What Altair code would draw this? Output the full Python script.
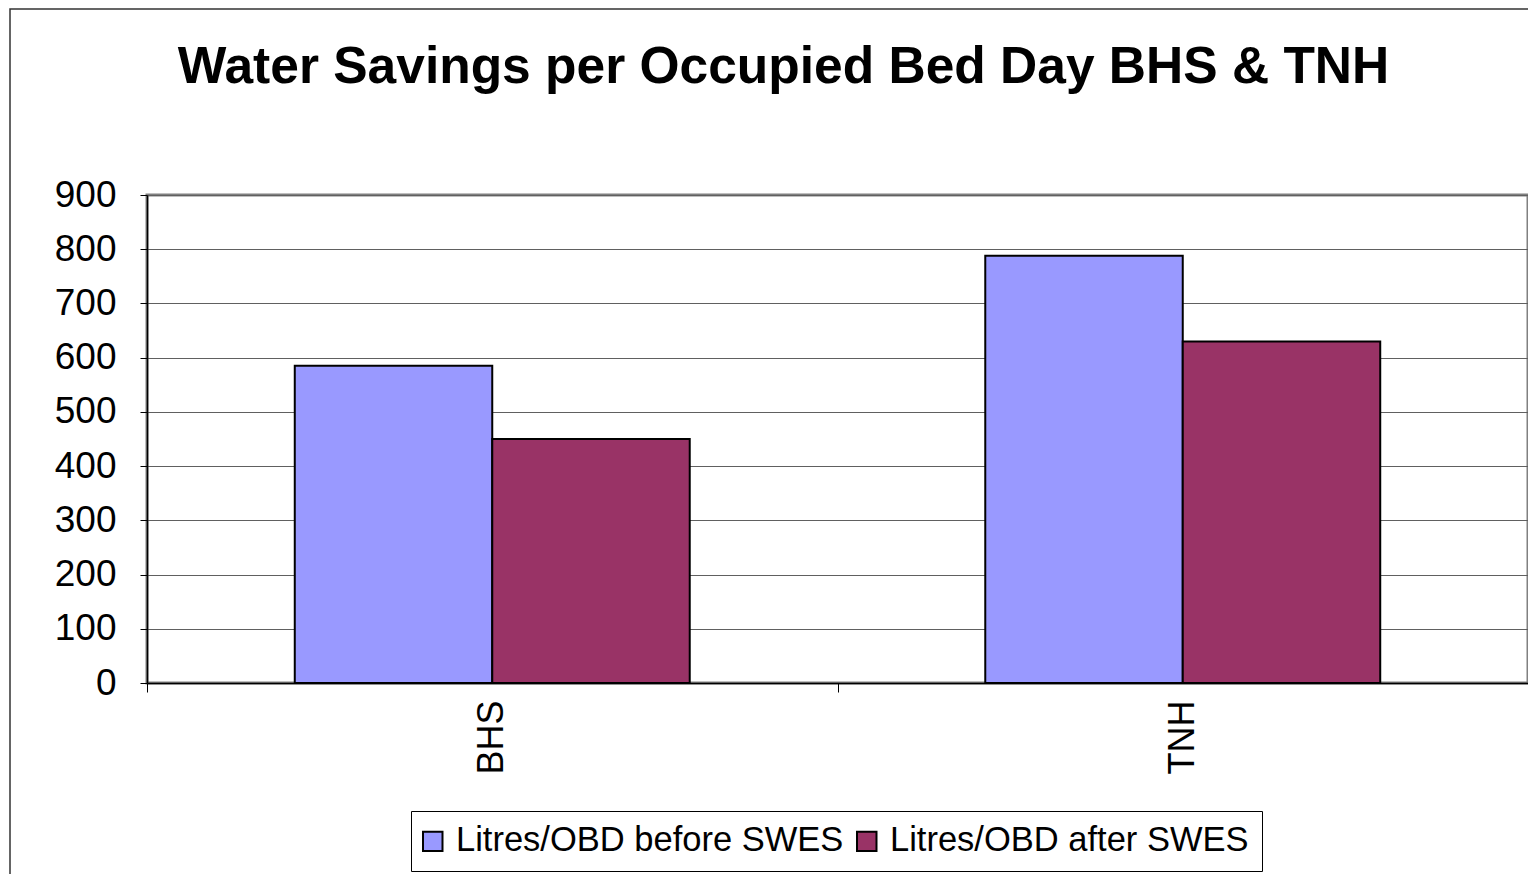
import altair as alt
import pandas as pd

categories = ["BHS", "TNH"]
series_names = ["Litres/OBD before SWES", "Litres/OBD after SWES"]
before_values = [585, 788]
after_values = [450, 630]
series_colors = ["#9999FF", "#993366"]
y_ticks = [0, 100, 200, 300, 400, 500, 600, 700, 800, 900]
boundaries = [0, 1, 2]

rows = []
for c, b, a in zip(categories, before_values, after_values):
    rows.append({"site": c, "series": series_names[0], "value": b})
    rows.append({"site": c, "series": series_names[1], "value": a})
df = pd.DataFrame(rows)

FONT = "Liberation Sans"
W, H = 1381, 488

border = alt.Chart(pd.DataFrame({"k": [0]})).mark_rect(
    fillOpacity=0, stroke="#333333", strokeWidth=1.5
).encode(
    x=alt.value(-137), x2=alt.value(W + 40),
    y=alt.value(-186), y2=alt.value(H + 260)
)

bars = alt.Chart(df).mark_bar(stroke="black", strokeWidth=2).encode(
    x=alt.X("site:N", sort=categories,
            scale=alt.Scale(paddingInner=0.428, paddingOuter=0.214),
            axis=alt.Axis(title=None, labelAngle=270, labelFontSize=36, labelFont=FONT,
                          labelColor="black", ticks=False, domain=True, domainColor="black",
                          domainWidth=1.5, labelPadding=17, grid=False)),
    xOffset=alt.XOffset("series:N", sort=series_names,
                        scale=alt.Scale(paddingInner=0, paddingOuter=0)),
    y=alt.Y("value:Q", scale=alt.Scale(domain=[0, 900], nice=False),
            axis=alt.Axis(values=y_ticks, title=None, labelFontSize=37, labelFont=FONT,
                          labelColor="black", tickSize=7, tickColor="black", tickWidth=1,
                          domainColor="black", domainWidth=1.5, labelPadding=24,
                          grid=True, gridColor="#606060", gridWidth=1)),
    color=alt.Color("series:N", sort=series_names,
                    scale=alt.Scale(domain=series_names, range=series_colors),
                    legend=alt.Legend(title=None, orient="none", legendX=264, legendY=616,
                                      direction="horizontal", fillColor="white",
                                      strokeColor="black", padding=13,
                                      symbolType="square", symbolSize=380,
                                      symbolStrokeColor="black", symbolStrokeWidth=2,
                                      symbolOffset=-8.5,
                                      labelFontSize=34.5, labelFont=FONT, labelColor="black",
                                      labelLimit=1000, columnPadding=9, labelOffset=6)),
)

tick_layer = alt.Chart(pd.DataFrame({"b": boundaries})).mark_point(opacity=0).encode(
    x=alt.X("b:Q", scale=alt.Scale(domain=[0, 2], nice=False, zero=False),
            axis=alt.Axis(orient="bottom", values=boundaries, labels=False, title=None,
                          domain=False, grid=False, tickSize=9, tickColor="black",
                          tickWidth=1))
)

chart = alt.layer(border, bars, tick_layer).resolve_scale(x="independent").properties(
    width=W, height=H,
    autosize="none",
    padding={"left": 139, "top": 187, "right": 0, "bottom": 191},
    title=alt.TitleParams("Water Savings per Occupied Bed Day BHS & TNH",
                          fontSize=51.5, font=FONT, fontWeight="bold", anchor="middle",
                          dx=-54, dy=126, offset=0, baseline="alphabetic", color="black"),
).configure_view(stroke="#808080", strokeWidth=3)

chart.save("out.html", embed_options={"renderer": "svg", "actions": False})
